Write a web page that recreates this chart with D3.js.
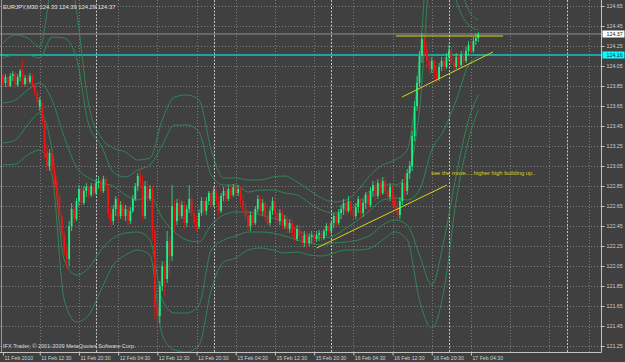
<!DOCTYPE html>
<html>
<head>
<meta charset="utf-8">
<script src="https://cdn.jsdelivr.net/npm/d3@7"></script>
<style>
  html, body { margin: 0; padding: 0; background: #404040; }
  svg { display: block; }
</style>
</head>
<body>
<svg id="chart"></svg>
<script>
// EURJPY M30 candles, one row per bar: [open, high, low, close]
const ohlc = [
  [123.96,123.98,123.85,123.88],[123.88,123.97,123.84,123.94],[123.94,123.95,123.82,123.85],[123.85,123.98,123.84,123.95],
  [123.95,124.00,123.90,123.97],[123.97,123.99,123.83,123.86],[123.86,123.97,123.84,123.94],[123.94,124.02,123.90,124.00],
  [124.00,124.12,123.84,123.87],[123.87,123.96,123.85,123.93],[123.93,123.96,123.86,123.89],[123.89,123.98,123.87,123.95],
  [123.95,123.97,123.84,123.86],[123.86,123.88,123.75,123.78],[123.78,123.80,123.66,123.69],[123.64,123.74,123.60,123.71],
  [123.68,123.70,123.46,123.50],[123.50,123.52,123.12,123.20],[123.20,123.28,123.00,123.05],[123.05,123.22,123.00,123.18],
  [123.18,123.20,122.98,123.02],[123.02,123.08,122.86,122.90],[122.90,122.95,122.72,122.75],[122.75,122.78,122.50,122.55],
  [122.55,122.58,122.30,122.36],[122.36,122.40,122.15,122.20],[122.20,122.26,122.02,122.12],[122.12,122.50,122.05,122.45],
  [122.45,122.68,122.40,122.62],[122.62,122.66,122.48,122.52],[122.52,122.73,122.50,122.70],[122.70,122.86,122.65,122.82],
  [122.82,122.84,122.64,122.68],[122.68,122.85,122.66,122.80],[122.80,122.88,122.74,122.84],[122.84,122.86,122.72,122.76],
  [122.76,122.88,122.74,122.85],[122.85,122.87,122.75,122.78],[122.78,122.92,122.76,122.88],[122.88,122.95,122.82,122.90],
  [122.90,122.93,122.76,122.80],[122.80,122.95,122.78,122.92],[122.92,122.94,122.80,122.84],[122.84,122.86,122.52,122.58],
  [122.58,122.64,122.46,122.50],[122.50,122.66,122.46,122.62],[122.62,122.75,122.55,122.72],[122.72,122.73,122.50,122.55],
  [122.55,122.70,122.52,122.66],[122.66,122.69,122.50,122.55],[122.55,122.66,122.50,122.62],[122.62,122.64,122.46,122.50],
  [122.50,122.64,122.47,122.60],[122.60,122.76,122.58,122.72],[122.72,122.88,122.70,122.85],[122.85,122.98,122.80,122.95],
  [122.95,123.02,122.82,122.88],[122.88,122.96,122.50,122.55],[122.55,122.90,122.52,122.85],[122.85,122.90,122.68,122.72],
  [122.72,122.86,122.70,122.82],[122.82,122.85,122.30,122.40],[122.40,122.45,121.52,121.65],[121.65,121.70,121.44,121.55],
  [121.55,121.90,121.48,121.85],[121.85,122.10,121.80,122.05],[122.05,122.10,121.75,121.92],[121.92,122.40,121.88,122.30],
  [122.30,122.35,121.95,122.15],[122.15,122.86,122.10,122.65],[122.65,122.72,122.40,122.50],[122.50,122.72,122.46,122.68],
  [122.68,122.74,122.50,122.55],[122.55,122.70,122.52,122.66],[122.66,122.70,122.42,122.48],[122.48,122.66,122.44,122.62],
  [122.62,122.86,122.58,122.72],[122.72,122.74,122.55,122.58],[122.58,122.62,122.42,122.48],[122.48,122.56,122.40,122.44],
  [122.44,122.62,122.42,122.58],[122.58,122.74,122.55,122.70],[122.70,122.73,122.55,122.60],[122.60,122.74,122.56,122.70],
  [122.70,122.80,122.66,122.78],[122.78,122.80,122.62,122.66],[122.66,122.84,122.64,122.80],[122.80,122.83,122.66,122.70],
  [122.70,122.76,122.56,122.60],[122.60,122.78,122.58,122.75],[122.75,122.84,122.70,122.80],[122.80,122.83,122.68,122.72],
  [122.72,122.86,122.70,122.82],[122.82,122.85,122.72,122.76],[122.76,122.87,122.74,122.84],[122.84,122.86,122.74,122.78],
  [122.78,122.86,122.75,122.82],[122.82,122.85,122.66,122.70],[122.70,122.76,122.58,122.62],[122.62,122.68,122.50,122.55],
  [122.55,122.60,122.40,122.45],[122.45,122.60,122.40,122.56],[122.56,122.60,122.44,122.48],[122.48,122.65,122.46,122.62],
  [122.62,122.76,122.58,122.72],[122.72,122.75,122.56,122.60],[122.60,122.72,122.56,122.68],[122.68,122.70,122.50,122.55],
  [122.55,122.60,122.44,122.48],[122.48,122.64,122.45,122.60],[122.60,122.74,122.56,122.70],[122.70,122.73,122.54,122.58],
  [122.58,122.62,122.46,122.50],[122.50,122.62,122.46,122.58],[122.58,122.61,122.42,122.45],[122.45,122.56,122.42,122.52],
  [122.52,122.55,122.38,122.42],[122.42,122.52,122.38,122.48],[122.48,122.52,122.34,122.38],[122.38,122.45,122.30,122.32],
  [122.32,122.46,122.30,122.42],[122.42,122.46,122.30,122.35],[122.35,122.40,122.24,122.28],[122.28,122.40,122.24,122.36],
  [122.36,122.40,122.22,122.28],[122.28,122.38,122.25,122.34],[122.34,122.40,122.28,122.36],[122.36,122.38,122.28,122.32],
  [122.32,122.40,122.29,122.36],[122.36,122.41,122.30,122.38],[122.38,122.40,122.30,122.33],[122.33,122.42,122.31,122.40],
  [122.40,122.48,122.35,122.45],[122.45,122.47,122.36,122.40],[122.40,122.50,122.37,122.48],[122.48,122.58,122.43,122.55],
  [122.55,122.57,122.44,122.48],[122.48,122.62,122.46,122.58],[122.58,122.66,122.52,122.62],[122.62,122.72,122.56,122.68],
  [122.68,122.70,122.56,122.60],[122.60,122.75,122.58,122.70],[122.70,122.72,122.56,122.60],[122.60,122.65,122.52,122.55],
  [122.55,122.68,122.52,122.64],[122.64,122.75,122.58,122.72],[122.72,122.73,122.52,122.58],[122.58,122.72,122.54,122.68],
  [122.68,122.79,122.62,122.76],[122.76,122.78,122.60,122.66],[122.66,122.84,122.64,122.80],[122.80,122.90,122.74,122.86],
  [122.86,122.90,122.70,122.75],[122.75,122.92,122.72,122.88],[122.88,122.92,122.74,122.78],[122.78,122.94,122.76,122.90],
  [122.90,122.94,122.76,122.80],[122.80,122.88,122.70,122.74],[122.74,122.88,122.70,122.84],[122.84,122.86,122.66,122.72],
  [122.72,122.76,122.60,122.64],[122.64,122.70,122.50,122.56],[122.56,122.74,122.52,122.70],[122.70,122.92,122.66,122.88],
  [122.88,122.98,122.74,122.80],[122.80,123.02,122.76,122.98],[122.98,123.10,122.92,123.05],[123.05,123.40,123.00,123.35],
  [123.35,123.70,123.30,123.65],[123.65,123.95,123.60,123.88],[123.88,124.20,123.84,124.15],[124.15,124.38,124.08,124.32],
  [124.32,124.36,124.15,124.22],[124.22,124.30,124.05,124.10],[124.10,124.16,123.96,124.02],[124.02,124.14,123.98,124.10],
  [124.10,124.12,123.92,123.98],[123.98,124.04,123.88,123.92],[123.92,124.08,123.90,124.04],[124.04,124.14,124.00,124.10],
  [124.10,124.14,124.00,124.04],[124.04,124.18,124.02,124.14],[124.14,124.26,124.10,124.20],[124.20,124.24,124.04,124.08],
  [124.08,124.14,124.00,124.04],[124.04,124.18,124.02,124.14],[124.14,124.18,124.02,124.06],[124.06,124.20,124.04,124.16],
  [124.16,124.22,124.06,124.10],[124.10,124.24,124.08,124.20],[124.20,124.30,124.16,124.26],[124.26,124.30,124.16,124.20],
  [124.20,124.34,124.18,124.30],[124.30,124.38,124.26,124.33],[124.33,124.39,124.29,124.37]
];

// band lines, read at these bar indexes
const bandIdx = [0,5,10,15,20,25,30,35,40,45,50,55,60,65,70,75,80,85,90,95,
                 100,105,110,115,120,125,130,135,140,145,150,155,160,165,170,175,180,185,190,194];
const bandMid = [123.68,123.71,123.81,123.88,123.71,123.34,123.04,122.93,122.88,122.85,122.76,122.71,122.75,122.53,122.39,122.31,122.29,122.46,122.56,122.59,
                 122.59,122.56,122.53,122.49,122.41,122.35,122.33,122.35,122.43,122.51,122.61,122.71,122.73,122.71,122.81,123.21,123.41,123.71,124.06,124.14];
const bandUp1 = [124.13,124.16,124.16,124.13,124.34,124.33,124.13,123.46,123.26,122.99,122.94,123.01,123.06,123.26,123.46,123.46,123.39,122.96,122.86,122.86,
                 122.79,122.81,122.81,122.78,122.76,122.68,122.61,122.58,122.61,122.68,122.81,122.86,122.86,122.96,123.61,125.11,125.31,124.71,124.46,124.41];
const bandUp2 = [124.28,124.36,124.33,124.24,124.91,125.31,124.61,123.66,123.34,123.23,123.19,123.11,123.13,123.51,123.74,123.76,123.71,123.21,122.93,122.93,
                 122.91,122.91,122.94,122.95,122.89,122.81,122.73,122.69,122.71,122.81,122.96,123.06,123.11,123.21,124.11,125.51,125.41,125.01,124.61,124.51];
const bandLo1 = [123.28,123.31,123.46,123.58,123.21,122.11,121.96,122.03,122.21,122.33,122.38,122.39,122.31,121.71,121.58,121.58,121.66,122.21,122.31,122.35,
                 122.39,122.39,122.38,122.35,122.31,122.28,122.26,122.28,122.29,122.31,122.36,122.46,122.51,122.46,122.16,121.86,122.31,122.96,123.51,123.76];
const bandLo2 = [123.06,123.07,123.16,123.21,122.96,121.71,121.49,121.56,121.81,122.06,122.16,122.21,122.16,121.36,121.21,121.19,121.26,121.81,122.09,122.13,
                 122.21,122.23,122.21,122.18,122.19,122.16,122.15,122.18,122.21,122.21,122.23,122.31,122.39,122.31,121.71,121.43,121.81,122.71,123.31,123.61];

// time axis
const timeTickIdx = [0,15,31,47,63,79,95,111,127,143,159,175,191];
const timeLabels = ["11 Feb 2010","11 Feb 12:30","11 Feb 20:30","12 Feb 04:30","12 Feb 12:30","12 Feb 20:30",
                    "15 Feb 04:30","15 Feb 12:30","15 Feb 20:30","16 Feb 04:30","16 Feb 12:30","16 Feb 20:30","17 Feb 04:30"];
const gridIdx = [15,31,47,63,79,95,111,127,143,159,175,191,207,223,239];
const separatorIdx = [38,86,134,182,230];

// price axis
const priceTicks = [121.25,121.45,121.65,121.85,122.05,122.25,122.45,122.65,122.85,
                    123.05,123.25,123.45,123.65,123.85,124.05,124.25,124.45,124.65];
const bidPrice = 124.37;
const levelPrice = 124.16;

// drawn objects: [barIndex, price] end points
const trendLow = [[128.0, 122.23], [181.2, 122.86]];
const trendHigh = [[162.9, 123.74], [200.0, 124.19]];
const highLine = [[160.4, 124.35], [204.1, 124.35]];
const noteText = "see the move.....higher high building up..";
const notePos = [174.7, 122.96];

const title = "EURJPY,M30  124.33 124.39 124.29 124.37";
const copyright = "IFX Trader, \u00a9 2001-2009 MetaQuotes Software Corp.";

const dims = { width: 625, height: 362, plotRight: 601, plotBottom: 352 };
const font = "'Liberation Sans', Arial, sans-serif";

const svg = d3.select("#chart")
    .attr("width", dims.width)
    .attr("height", dims.height)
    .style("background", "#404040");

let x = d3.scaleLinear().domain([0, 194]).range([3, 3 + 194 * 2.45]);
let y = d3.scaleLinear().domain([121.25, 124.65]).range([346, 6]);

svg.append("defs").append("clipPath").attr("id", "plot")
  .append("rect").attr("x", 0).attr("y", 0)
  .attr("width", dims.plotRight).attr("height", dims.plotBottom);

const plot = svg.append("g").attr("clip-path", "url(#plot)");

// grid
plot.append("g").selectAll("line").data(priceTicks).join("line")
    .attr("x1", 0).attr("x2", dims.plotRight)
    .attr("y1", d => Math.round(y(d)) + 0.5).attr("y2", d => Math.round(y(d)) + 0.5)
    .attr("stroke", "#7c7c7c").attr("stroke-dasharray", "1,2");

plot.append("g").selectAll("line").data(gridIdx).join("line")
    .attr("x1", d => Math.round(x(d)) + 0.5).attr("x2", d => Math.round(x(d)) + 0.5)
    .attr("y1", 0).attr("y2", dims.plotBottom)
    .attr("stroke", "#7c7c7c").attr("stroke-dasharray", "1,2");

plot.append("g").selectAll("line").data(separatorIdx).join("line")
    .attr("x1", d => Math.round(x(d)) + 0.5).attr("x2", d => Math.round(x(d)) + 0.5)
    .attr("y1", 0).attr("y2", dims.plotBottom)
    .attr("stroke", "#c4c4c4").attr("stroke-dasharray", "2,1.5");

// bid line and level line
plot.append("line")
    .attr("x1", 0).attr("x2", dims.plotRight)
    .attr("y1", y(bidPrice)).attr("y2", y(bidPrice))
    .attr("stroke", "#8e8e8e").attr("stroke-width", 1);

plot.append("line")
    .attr("x1", 0).attr("x2", dims.plotRight)
    .attr("y1", y(levelPrice)).attr("y2", y(levelPrice))
    .attr("stroke", "#16c4c4").attr("stroke-width", 1.3);

// bands
let band = d3.line()
    .x(d => x(d[0]))
    .y(d => y(d[1]))
    .curve(d3.curveMonotoneX);

[bandUp2, bandUp1, bandMid, bandLo1, bandLo2].forEach(vals => {
  plot.append("path")
      .datum(bandIdx.map((b, i) => [b, vals[i]]))
      .attr("fill", "none")
      .attr("stroke", "#2e8c58")
      .attr("stroke-width", 0.9)
      .attr("d", band);
});

// candles
const bull = "#1fee86", bear = "#ee1414";
const candles = plot.append("g").selectAll("g").data(ohlc).join("g");
candles.append("line")
    .attr("x1", (d, i) => x(i)).attr("x2", (d, i) => x(i))
    .attr("y1", d => y(d[1])).attr("y2", d => y(d[2]))
    .attr("stroke", d => d[3] >= d[0] ? bull : bear)
    .attr("stroke-width", 0.8);
candles.append("rect")
    .attr("x", (d, i) => x(i) - 0.9)
    .attr("width", 1.8)
    .attr("y", d => y(Math.max(d[0], d[3])))
    .attr("height", d => Math.max(0.8, Math.abs(y(d[0]) - y(d[3]))))
    .attr("fill", d => d[3] >= d[0] ? bull : bear);

// trend lines drawn on the chart
const yellow = "#d6d61c";
[trendLow, trendHigh, highLine].forEach(seg => {
  plot.append("line")
      .attr("x1", x(seg[0][0])).attr("y1", y(seg[0][1]))
      .attr("x2", x(seg[1][0])).attr("y2", y(seg[1][1]))
      .attr("stroke", yellow).attr("stroke-width", 1);
});

plot.append("text")
    .attr("x", x(notePos[0])).attr("y", y(notePos[1]))
    .attr("fill", yellow)
    .style("font-family", font).style("font-size", "5.8px")
    .text(noteText);

// frame
svg.append("line").attr("x1", 1.5).attr("x2", 1.5).attr("y1", 0).attr("y2", dims.plotBottom)
    .attr("stroke", "#9a9a9a");
svg.append("line").attr("x1", 0).attr("x2", dims.plotRight + 0.5)
    .attr("y1", dims.plotBottom + 0.5).attr("y2", dims.plotBottom + 0.5)
    .attr("stroke", "#c4c4c4");
svg.append("line").attr("x1", dims.plotRight + 0.5).attr("x2", dims.plotRight + 0.5)
    .attr("y1", 0).attr("y2", dims.plotBottom + 0.5)
    .attr("stroke", "#c4c4c4");

// axes
let xAxis = g => g
    .attr("transform", `translate(0, ${dims.plotBottom + 0.5})`)
    .call(d3.axisBottom(x).tickValues(timeTickIdx).tickFormat((d, i) => timeLabels[i])
        .tickSize(3).tickSizeOuter(0))
    .call(g => g.select(".domain").remove())
    .call(g => g.selectAll(".tick line").attr("stroke", "#c4c4c4"))
    .call(g => g.selectAll(".tick text")
        .attr("x", 1).attr("y", 7).attr("dy", null)
        .attr("text-anchor", "start")
        .attr("fill", "#d0d0d0")
        .style("font-family", font).style("font-size", "5.2px"));

let yAxis = g => g
    .attr("transform", `translate(${dims.plotRight + 0.5}, 0)`)
    .call(d3.axisRight(y).tickValues(priceTicks).tickFormat(d3.format(".2f")).tickSize(3).tickSizeOuter(0))
    .call(g => g.select(".domain").remove())
    .call(g => g.selectAll(".tick line").attr("stroke", "#c4c4c4"))
    .call(g => g.selectAll(".tick text")
        .attr("x", 5).attr("dy", "0.35em")
        .attr("fill", "#d0d0d0")
        .style("font-family", font).style("font-size", "5.3px"));

svg.append("g").call(xAxis);
svg.append("g").call(yAxis);

// price tags on the axis
[[bidPrice, "#ffffff"], [levelPrice, "#00ffff"]].forEach(([p, c]) => {
  svg.append("rect")
      .attr("x", dims.plotRight + 1.5).attr("y", y(p) - 3.5)
      .attr("width", 22).attr("height", 7)
      .attr("fill", c);
  svg.append("text")
      .attr("x", dims.plotRight + 5.5).attr("y", y(p)).attr("dy", "0.35em")
      .attr("fill", "#202020")
      .style("font-family", font).style("font-size", "5.3px")
      .text(d3.format(".2f")(p));
});

// title and copyright
svg.append("text")
    .attr("x", 3).attr("y", 9)
    .attr("fill", "#e0e0e0")
    .style("font-family", font).style("font-size", "5.8px")
    .text(title);

svg.append("text")
    .attr("x", 3).attr("y", 348)
    .attr("fill", "#d8d8d8")
    .style("font-family", font).style("font-size", "5.6px")
    .text(copyright);
</script>
</body>
</html>
